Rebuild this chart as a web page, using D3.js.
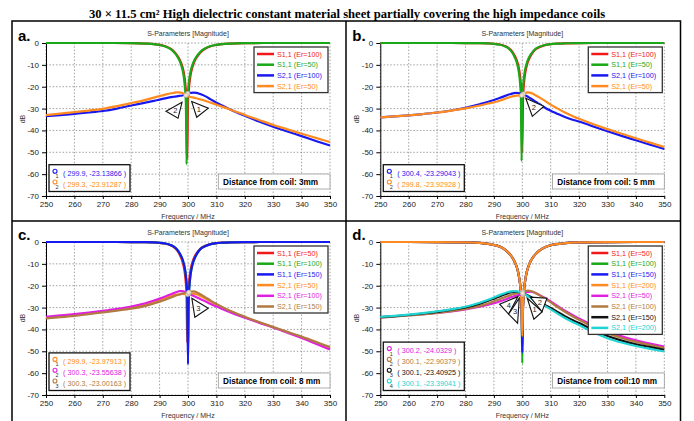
<!DOCTYPE html>
<html>
<head>
<meta charset="utf-8">
<script src="https://cdn.jsdelivr.net/npm/d3@7"></script>
<style>
  body { margin: 0; background: #fff; }
  svg { display: block; font-family: "Liberation Sans", Arial, sans-serif; }
</style>
</head>
<body>
<svg id="chart" width="694" height="421"></svg>
<script>
// ---------------- data ----------------
const xTicks = [250, 260, 270, 280, 290, 300, 310, 320, 330, 340, 350];
const yTicks = [0, -10, -20, -30, -40, -50, -60, -70];

const freqS11 = [250, 270, 280, 285, 288, 290, 292, 294, 295, 296, 297, 298, 298.5, 299, 299.25, 299.5, 299.75, 300, 300.25, 300.5,
                 300.75, 301, 301.5, 302, 303, 304, 305, 306, 308, 310, 312, 315, 320, 330, 350];
const freqS21 = [250, 255, 260, 265, 270, 275, 280, 285, 288, 290, 292, 294, 295, 296, 297, 298, 299, 299.5, 300, 300.5,
                 301, 302, 303, 304, 305, 306, 308, 310, 312, 315, 318, 320, 325, 330, 335, 340, 345, 350];

// a. 3 mm
const aS11Er100 = [0, 0, -0.08, -0.25, -0.48, -0.85, -1.48, -2.7, -3.75, -5.3, -7.4, -10.7, -13.4, -17.9, -21.7, -27, -53, -27, -22.3, -18.6,
                   -16, -14, -11.3, -9.3, -6.7, -4.9, -3.6, -2.65, -1.5, -0.9, -0.55, -0.28, -0.1, 0, 0];
const aS11Er50  = [0, 0, -0.08, -0.25, -0.5, -0.9, -1.6, -2.9, -4.1, -5.7, -8.0, -11.9, -15.3, -21.7, -27, -55.5, -27, -22.3, -18.6, -16,
                   -14, -12.5, -10.2, -8.5, -6.2, -4.6, -3.3, -2.45, -1.4, -0.85, -0.5, -0.27, -0.09, 0, 0];
const aS21Er100 = [-33.5, -33.0, -32.4, -31.8, -31.1, -30.0, -28.6, -27.3, -26.5, -25.9, -25.3, -24.8, -24.6, -24.4, -24.2, -24.0, -23.6, -23.3, -23.1, -22.9,
                   -22.8, -22.7, -22.8, -23.2, -23.7, -24.3, -25.8, -27.3, -28.6, -30.5, -32.2, -33.3, -35.9, -38.3, -40.5, -42.6, -44.8, -46.9];
const aS21Er50  = [-33.0, -32.3, -31.6, -30.9, -30.1, -28.9, -27.5, -26.0, -25.0, -24.3, -23.6, -23.0, -22.8, -22.6, -22.6, -22.9, -23.6, -24.0, -24.3, -24.5,
                   -24.7, -25.0, -25.3, -25.7, -26.0, -26.4, -27.3, -28.2, -29.1, -30.5, -31.9, -32.9, -35.2, -37.5, -39.5, -41.5, -43.4, -45.3];

// b. 5 mm
const bS11Er100 = [0, 0, -0.02, -0.07, -0.18, -0.35, -0.7, -1.45, -2.1, -3.2, -5.0, -7.7, -9.8, -13, -15.5, -19, -25, -50, -26, -20,
                   -16.5, -14, -10.7, -8.5, -5.7, -3.8, -2.6, -1.9, -0.95, -0.5, -0.3, -0.13, -0.04, 0, 0];
const bS11Er50  = [0, 0, -0.02, -0.08, -0.2, -0.37, -0.78, -1.6, -2.35, -3.6, -5.6, -8.7, -11.3, -15.5, -19, -25, -54, -26, -20, -16.5,
                   -14, -12.1, -9.5, -7.6, -5.15, -3.5, -2.35, -1.7, -0.9, -0.48, -0.27, -0.12, -0.03, 0, 0];
const bS21Er100 = [-34.0, -33.6, -33.1, -32.5, -31.8, -30.9, -29.7, -28.0, -26.9, -26.1, -25.2, -24.2, -23.7, -23.3, -22.9, -22.8, -23.0, -23.2, -23.3, -23.3,
                   -23.8, -24.6, -25.4, -26.3, -27.1, -27.9, -29.6, -31.0, -32.2, -33.9, -35.2, -35.9, -38.2, -40.4, -42.5, -44.5, -46.5, -48.5];
const bS21Er50  = [-34.0, -33.6, -33.1, -32.5, -31.8, -30.9, -29.9, -28.6, -27.7, -27.1, -26.4, -25.5, -25.0, -24.6, -24.3, -24.1, -24.0, -23.9, -23.8, -23.4,
                   -23.0, -22.6, -22.8, -23.4, -24.1, -24.9, -26.5, -28.2, -29.7, -31.8, -33.6, -34.7, -37.2, -39.4, -41.5, -43.6, -45.6, -47.6];

// c. 8 mm
const cS11Er50  = [0, 0, -0.02, -0.08, -0.2, -0.37, -0.78, -1.6, -2.35, -3.6, -5.6, -8.7, -11.3, -15.5, -19, -25, -46, -25.5, -20, -16.5,
                   -14, -12.1, -9.5, -7.6, -5.15, -3.5, -2.35, -1.7, -0.9, -0.48, -0.27, -0.12, -0.03, 0, 0];
const cS11Er100 = [0, 0, -0.02, -0.07, -0.18, -0.35, -0.7, -1.45, -2.1, -3.2, -5.0, -7.7, -9.8, -13, -15.5, -19, -25, -50, -26, -20,
                   -16.5, -14, -10.7, -8.5, -5.7, -3.8, -2.6, -1.9, -0.95, -0.5, -0.3, -0.13, -0.04, 0, 0];
const cS11Er150 = [0, 0, -0.02, -0.07, -0.18, -0.35, -0.7, -1.45, -2.1, -3.2, -5.0, -7.7, -9.8, -13, -15.5, -19, -25, -56, -26, -20,
                   -16.5, -14, -10.7, -8.5, -5.7, -3.8, -2.6, -1.9, -0.95, -0.5, -0.3, -0.13, -0.04, 0, 0];
const cS21Er50  = [-34.5, -34.0, -33.4, -32.7, -31.9, -31.0, -30.0, -28.6, -27.5, -26.6, -25.7, -24.8, -24.4, -24.1, -23.9, -23.8, -23.9, -23.95, -24.0, -23.9,
                   -23.7, -23.6, -23.9, -24.5, -25.1, -25.8, -27.2, -28.6, -30.0, -31.8, -33.4, -34.4, -36.8, -39.0, -41.3, -43.6, -46.1, -48.6];
const cS21Er100 = [-34.2, -33.6, -33.0, -32.3, -31.5, -30.6, -29.5, -28.0, -26.8, -25.9, -24.9, -23.9, -23.4, -22.9, -22.5, -22.5, -22.9, -23.2, -23.5, -23.7,
                   -24.1, -24.7, -25.3, -25.9, -26.5, -27.1, -28.4, -29.5, -30.6, -32.2, -33.7, -34.6, -36.9, -39.1, -41.5, -43.9, -46.5, -49.2];
const cS21Er150 = [-34.9, -34.4, -33.8, -33.0, -32.2, -31.4, -30.5, -29.2, -28.1, -27.3, -26.4, -25.4, -24.9, -24.4, -24.0, -23.6, -23.3, -23.1, -23.0, -22.9,
                   -22.7, -22.6, -23.0, -23.7, -24.4, -25.2, -26.8, -28.3, -29.7, -31.6, -33.2, -34.2, -36.6, -38.9, -41.1, -43.3, -45.7, -48.1];

// d. 10 mm
const dS11Er50  = [0, -0.03, -0.18, -0.42, -0.85, -1.35, -2.1, -3.6, -4.75, -6.2, -8.2, -11.3, -13.6, -17.2, -19.5, -23.6, -29, -47, -29.5, -24,
                   -20.1, -17.8, -14.1, -11.8, -8.6, -6.6, -5.1, -3.95, -2.4, -1.5, -0.98, -0.55, -0.2, -0.02, 0];
const dS11Er100 = [0, -0.03, -0.18, -0.42, -0.85, -1.35, -2.1, -3.6, -4.75, -6.2, -8.2, -11.3, -13.6, -17.2, -19.5, -23.6, -29, -55.5, -29.5, -24,
                   -20.1, -17.8, -14.1, -11.8, -8.6, -6.6, -5.1, -3.95, -2.4, -1.5, -0.98, -0.55, -0.2, -0.02, 0];
const dS11Er150 = [0, -0.03, -0.18, -0.42, -0.85, -1.35, -2.1, -3.6, -4.75, -6.2, -8.2, -11.3, -13.6, -17.2, -19.5, -23.6, -29, -50.5, -29.5, -24,
                   -20.1, -17.8, -14.1, -11.8, -8.6, -6.6, -5.1, -3.95, -2.4, -1.5, -0.98, -0.55, -0.2, -0.02, 0];
const dS11Er200 = [0, -0.03, -0.18, -0.42, -0.85, -1.35, -2.1, -3.6, -4.75, -6.2, -8.2, -11.3, -13.6, -17.2, -19.5, -23.6, -29, -43, -29.5, -24,
                   -20.1, -17.8, -14.1, -11.8, -8.6, -6.6, -5.1, -3.95, -2.4, -1.5, -0.98, -0.55, -0.2, -0.02, 0];
const dS21Er50  = [-34.5, -34.0, -33.5, -33.0, -32.4, -31.7, -30.8, -29.6, -28.7, -28.0, -27.2, -26.3, -25.8, -25.3, -24.9, -24.5, -24.2, -24.1, -24.0, -23.6,
                   -23.2, -22.8, -22.7, -23.0, -23.6, -24.2, -25.6, -27.2, -28.9, -31.4, -33.6, -35.0, -38.2, -41.0, -43.2, -45.0, -46.5, -47.9];
const dS21Er100 = [-34.6, -34.1, -33.6, -33.1, -32.4, -31.6, -30.6, -29.2, -28.1, -27.1, -26.2, -25.2, -24.7, -24.2, -23.8, -23.4, -23.1, -23.0, -22.9, -22.6,
                   -22.4, -22.2, -22.4, -22.9, -23.6, -24.3, -25.9, -27.6, -29.4, -31.9, -34.2, -35.6, -38.9, -41.7, -43.9, -45.7, -47.2, -48.5];
const dS21Er150 = [-34.4, -33.9, -33.4, -32.7, -32.0, -31.0, -29.9, -28.2, -26.9, -25.9, -24.9, -23.9, -23.4, -23.0, -22.8, -22.8, -23.0, -23.2, -23.4, -23.6,
                   -23.9, -24.5, -25.2, -25.9, -26.6, -27.3, -28.8, -30.2, -31.7, -33.9, -35.9, -37.1, -40.3, -43.0, -45.1, -46.8, -48.1, -49.3];
const dS21Er200 = [-34.3, -33.8, -33.2, -32.5, -31.7, -30.8, -29.6, -27.8, -26.4, -25.4, -24.3, -23.3, -22.9, -22.6, -22.5, -22.6, -22.9, -23.2, -23.4, -23.7,
                   -24.1, -24.8, -25.6, -26.4, -27.0, -27.8, -29.3, -30.8, -32.4, -34.8, -36.8, -38.0, -41.3, -44.0, -46.0, -47.6, -48.9, -50.1];

// marker readouts [freq, dB]
const aMarkers = [[299.9, -23.13866], [299.3, -23.91287]];
const bMarkers = [[300.4, -23.29043], [299.8, -23.92928]];
const cMarkers = [[299.9, -23.97913], [300.3, -23.55638], [300.3, -23.00163]];
const dMarkers = [[300.2, -24.0329], [300.1, -22.90379], [300.1, -23.40925], [300.1, -23.39041]];

// ---------------- styles ----------------
const RED = "#f01818", GREEN = "#18a818", BLUE = "#1818f0", ORANGE = "#ff8a20",
      MAGENTA = "#e020e0", BROWN = "#b07a40", BLACK = "#111111", CYAN = "#20d4d4";

const panels = [
  { label: "a.", dx: 0, dy: 0, distance: "Distance from coil: 3mm",
    series: [
      { name: "S1,1 (Er=100)", color: RED,    f: freqS11, v: aS11Er100 },
      { name: "S1,1 (Er=50)",  color: GREEN,  f: freqS11, v: aS11Er50 },
      { name: "S2,1 (Er=100)", color: BLUE,   f: freqS21, v: aS21Er100 },
      { name: "S2,1 (Er=50)",  color: ORANGE, f: freqS21, v: aS21Er50 }
    ],
    markers: aMarkers, markerColors: [BLUE, ORANGE],
    flags: [ { m: 1, pts: [[-4, 7], [-20, 16], [-8, 23]] },
             { m: 0, pts: [[4, 8], [20.6, 14.7], [9, 23.7]] } ] },
  { label: "b.", dx: 334.3, dy: 0, distance: "Distance from coil: 5 mm",
    series: [
      { name: "S1,1 (Er=100)", color: RED,    f: freqS11, v: bS11Er100 },
      { name: "S1,1 (Er=50)",  color: GREEN,  f: freqS11, v: bS11Er50 },
      { name: "S2,1 (Er=100)", color: BLUE,   f: freqS21, v: bS21Er100 },
      { name: "S2,1 (Er=50)",  color: ORANGE, f: freqS21, v: bS21Er50 }
    ],
    markers: bMarkers, markerColors: [BLUE, ORANGE],
    flags: [ { m: 1, pts: [[4, 3], [22, 11], [10.6, 21]] } ] },
  { label: "c.", dx: 0, dy: 199, distance: "Distance from coil: 8 mm",
    series: [
      { name: "S1,1 (Er=50)",  color: RED,     f: freqS11, v: cS11Er50 },
      { name: "S1,1 (Er=100)", color: GREEN,   f: freqS11, v: cS11Er100 },
      { name: "S1,1 (Er=150)", color: BLUE,    f: freqS11, v: cS11Er150 },
      { name: "S2,1 (Er=50)",  color: ORANGE,  f: freqS21, v: cS21Er50 },
      { name: "S2,1 (Er=100)", color: MAGENTA, f: freqS21, v: cS21Er100 },
      { name: "S2,1 (Er=150)", color: BROWN,   f: freqS21, v: cS21Er150 }
    ],
    markers: cMarkers, markerColors: [ORANGE, MAGENTA, BROWN],
    flags: [ { m: 2, pts: [[3, 6], [19.4, 16], [6, 25]] } ] },
  { label: "d.", dx: 334.3, dy: 199, distance: "Distance from coil:10 mm",
    series: [
      { name: "S1,1 (Er=50)",  color: RED,     f: freqS11, v: dS11Er50 },
      { name: "S1,1 (Er=100)", color: GREEN,   f: freqS11, v: dS11Er100 },
      { name: "S1,1 (Er=150)", color: BLUE,    f: freqS11, v: dS11Er150 },
      { name: "S1,1 (Er=200)", color: ORANGE,  f: freqS11, v: dS11Er200 },
      { name: "S2,1 (Er=50)",  color: MAGENTA, f: freqS21, v: dS21Er50 },
      { name: "S2,1 (Er=100)", color: BROWN,   f: freqS21, v: dS21Er100 },
      { name: "S2,1 (Er=150)", color: BLACK,   f: freqS21, v: dS21Er150 },
      { name: "S2,1 (Er=200)", color: CYAN,    f: freqS21, v: dS21Er200 }
    ],
    markers: dMarkers, markerColors: [MAGENTA, BROWN, BLACK, CYAN],
    flags: [ { m: 3, pts: [[-4.6, 3.5], [-23, 11], [-14, 21]] },
             { m: 2, pts: [[-3.3, 5], [-14, 21], [-5, 30]] },
             { m: 0, pts: [[4.4, 3.7], [19.4, 17.2], [11, 24.7]] },
             { m: 1, pts: [[7.7, 5.1], [24.4, 6.1], [19.4, 19.6]] } ] }
];

// ---------------- drawing ----------------
const svg = d3.select("#chart");

const x = d3.scaleLinear().domain([250, 350]).range([46, 330]);
const y = d3.scaleLinear().domain([-70, 0]).range([196, 43]);

const line = d3.line()
  .x(d => x(d[0]))
  .y(d => y(d[1]))
  .curve(d3.curveMonotoneX);

// title
const title = svg.append("text")
  .attr("x", 347).attr("y", 17.5)
  .attr("text-anchor", "middle")
  .style("font-family", '"Liberation Serif", "Times New Roman", serif')
  .style("font-weight", "bold")
  .style("font-size", "12.5px")
  .text("30 × 11.5 cm² High dielectric constant material sheet partially covering the high impedance coils");
const tw = title.node().getComputedTextLength();
title.style("font-size", (12.5 * 517 / tw) + "px");

// outer frame + dividers
svg.append("rect")
  .attr("x", 12).attr("y", 21).attr("width", 668.5).attr("height", 430)
  .attr("fill", "none").attr("stroke", "#000").attr("stroke-width", 1.5);
svg.append("line")
  .attr("x1", 346).attr("x2", 346).attr("y1", 21).attr("y2", 421)
  .attr("stroke", "#000").attr("stroke-width", 1.5);
svg.append("line")
  .attr("x1", 12).attr("x2", 680.5).attr("y1", 221).attr("y2", 221)
  .attr("stroke", "#000").attr("stroke-width", 1.5);

panels.forEach(p => {
  const g = svg.append("g").attr("transform", `translate(${p.dx},${p.dy})`);

  // panel letter
  g.append("text")
    .attr("x", 18).attr("y", 40.5)
    .style("font-weight", "bold").style("font-size", "15px")
    .text(p.label);

  g.append("text")
    .attr("x", 188).attr("y", 36)
    .attr("text-anchor", "middle")
    .style("font-size", "7px").attr("fill", "#333")
    .text("S-Parameters [Magnitude]");

  // grid
  g.append("g").selectAll("line").data(xTicks).join("line")
    .attr("x1", d => x(d)).attr("x2", d => x(d))
    .attr("y1", y(0)).attr("y2", y(-70))
    .attr("stroke", "#8a8a8a").attr("stroke-width", 0.8)
    .attr("stroke-dasharray", "1.5,1.8");
  g.append("g").selectAll("line").data(yTicks).join("line")
    .attr("x1", x(250)).attr("x2", x(350))
    .attr("y1", d => y(d)).attr("y2", d => y(d))
    .attr("stroke", "#8a8a8a").attr("stroke-width", 0.8)
    .attr("stroke-dasharray", "1.5,1.8");

  // axes
  const ax = g.append("g")
    .attr("transform", `translate(0,${y(-70)})`)
    .call(d3.axisBottom(x).tickValues(xTicks).tickSize(3).tickPadding(2)
      .tickSizeOuter(0).tickFormat(d3.format("d")));
  const ay = g.append("g")
    .attr("transform", `translate(${x(250)},0)`)
    .call(d3.axisLeft(y).tickValues(yTicks).tickSize(4).tickPadding(3)
      .tickSizeOuter(0).tickFormat(d => String(d)));
  [ax, ay].forEach(a => {
    a.attr("font-size", 8).attr("font-family", '"Liberation Sans", Arial, sans-serif');
    a.selectAll("text").attr("fill", "#222");
  });

  g.append("text")
    .attr("x", 188).attr("y", 219)
    .attr("text-anchor", "middle")
    .style("font-size", "7px").attr("fill", "#333")
    .text("Frequency / MHz");
  g.append("text")
    .attr("transform", "translate(24.5,119) rotate(-90)")
    .attr("text-anchor", "middle")
    .style("font-size", "7px").attr("fill", "#333")
    .text("dB");

  // curves
  g.append("g").selectAll("path").data(p.series).join("path")
    .attr("d", s => line(s.f.map((f, i) => [f, s.v[i]])))
    .attr("fill", "none")
    .attr("stroke", s => s.color)
    .attr("stroke-width", 2.2)
    .attr("stroke-linejoin", "round");

  // marker flags
  p.flags.forEach(fl => {
    const mx = x(p.markers[fl.m][0]), my = y(p.markers[fl.m][1]);
    const pts = fl.pts.map(q => [mx + q[0], my + q[1]]);
    g.append("polygon")
      .attr("points", pts.map(q => q.join(",")).join(" "))
      .attr("fill", "#fff").attr("stroke", "#111").attr("stroke-width", 1.1);
    g.append("text")
      .attr("x", d3.mean(pts, q => q[0])).attr("y", d3.mean(pts, q => q[1]))
      .attr("dy", "0.35em").attr("text-anchor", "middle")
      .style("font-size", "7.5px").attr("fill", "#222")
      .text(fl.m + 1);
  });
  g.append("g").selectAll("circle").data(p.markers).join("circle")
    .attr("cx", d => x(d[0])).attr("cy", d => y(d[1])).attr("r", 2.2)
    .attr("fill", "#f3e2c4").attr("stroke", "#aaa").attr("stroke-width", 0.6);

  // legend
  const n = p.series.length;
  const lg = g.append("g");
  lg.append("rect")
    .attr("x", 254).attr("y", 47)
    .attr("width", 74).attr("height", (n - 1) * 10.7 + 13.5)
    .attr("fill", "#fff").attr("stroke", "#333").attr("stroke-width", 1.3);
  const rows = lg.selectAll("g.row").data(p.series).join("g")
    .attr("transform", (s, i) => `translate(0,${54 + i * 10.7})`);
  rows.append("line")
    .attr("x1", 257).attr("x2", 274)
    .attr("stroke", s => s.color).attr("stroke-width", 2.5);
  rows.append("text")
    .attr("x", 277).attr("dy", "0.35em")
    .style("font-size", "7.2px").attr("fill", s => s.color)
    .text(s => s.name);

  // marker readout box
  const m = p.markers.length;
  const rowY = i => 184 - (m - 1 - i) * 10.8;
  const mb = g.append("g");
  mb.append("rect")
    .attr("x", 49).attr("y", rowY(0) - 8.5)
    .attr("width", 81).attr("height", rowY(m - 1) - rowY(0) + 16)
    .attr("fill", "#fff").attr("stroke", "#111").attr("stroke-width", 1.3);
  p.markers.forEach((d, i) => {
    const c = p.markerColors[i];
    mb.append("circle")
      .attr("cx", 55).attr("cy", rowY(i) - 2).attr("r", 2)
      .attr("fill", "none").attr("stroke", c).attr("stroke-width", 1.1);
    mb.append("text")
      .attr("x", 55.5).attr("y", rowY(i) + 5)
      .style("font-size", "5.5px").attr("fill", "#333")
      .text(i + 1);
    mb.append("text")
      .attr("x", 63).attr("y", rowY(i)).attr("dy", "0.35em")
      .style("font-size", "7.2px").attr("fill", c)
      .text(`( ${d[0]}, ${d[1]} )`);
  });

  // distance box
  g.append("rect")
    .attr("x", 218.3).attr("y", 174)
    .attr("width", 111.7).attr("height", 15)
    .attr("fill", "#fff").attr("stroke", "#999").attr("stroke-width", 0.8);
  g.append("text")
    .attr("x", 223).attr("y", 184.7)
    .style("font-size", "8.2px").style("font-weight", "bold")
    .text(p.distance);
});
</script>
</body>
</html>
